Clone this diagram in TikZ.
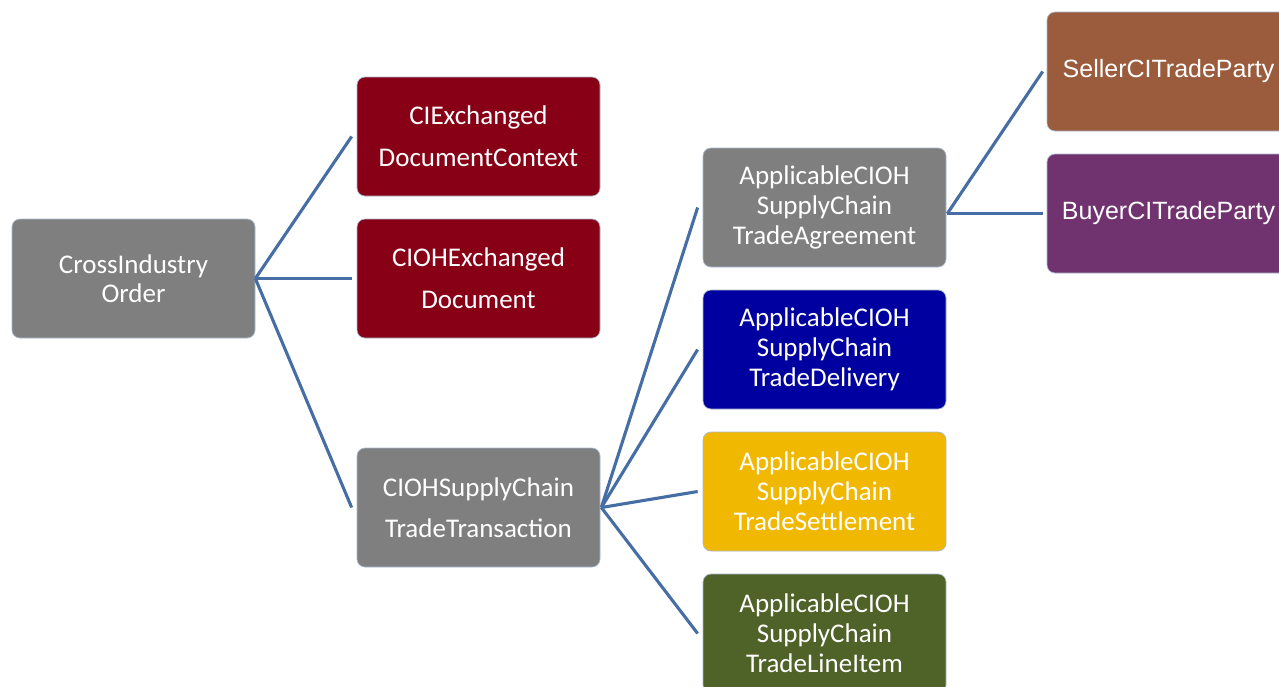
\documentclass[tikz,border=0pt]{standalone}
\usepackage{fontspec}
\setmainfont{Carlito}
\newfontfamily\arialfont{Liberation Sans}
\definecolor{cgray}{RGB}{127,127,127}
\definecolor{cred}{RGB}{135,0,22}
\definecolor{cblue}{RGB}{0,0,160}
\definecolor{cyellow}{RGB}{240,184,0}
\definecolor{colive}{RGB}{79,98,40}
\definecolor{cbrown}{RGB}{154,92,60}
\definecolor{cpurple}{RGB}{113,51,111}
\definecolor{cline}{RGB}{70,110,165}
\definecolor{cborder}{RGB}{170,185,205}
\begin{document}
\begin{tikzpicture}[x=1pt,y=-1pt,
  box/.style={rectangle, rounded corners=8pt, draw=cborder, line width=0.7pt,
    minimum width=243pt, minimum height=119pt, inner sep=0pt, align=center,
    text=white},
  twoline/.style={font=\fontsize{27}{42}\selectfont},
  threeline/.style={font=\fontsize{27}{30}\selectfont},
  arialbox/.style={font=\arialfont\fontsize{25}{30}\selectfont},
  conn/.style={draw=cline, line width=3.1pt}
]
\useasboundingbox (0,0) rectangle (1279,686);
\clip (0,0) rectangle (1279,686);

\node[box, fill=cgray, font=\fontsize{27}{29}\selectfont] (root) at (133.5,278.5) {CrossIndustry\\Order};
\node[box, fill=cred, twoline] (ctx) at (478.5,136.5) {CIExchanged\\DocumentContext};
\node[box, fill=cred, twoline] (doc) at (478.5,278.5) {CIOHExchanged\\Document};
\node[box, fill=cgray, font=\fontsize{27}{41}\selectfont] (trans) at (478.5,507.5) {CIOHSupplyChain\\TradeTransaction};

\node[box, fill=cgray, threeline] (agr) at (824.5,207.5) {ApplicableCIOH\\SupplyChain\\TradeAgreement};
\node[box, fill=cblue, threeline] (del) at (824.5,349.5) {ApplicableCIOH\\SupplyChain\\TradeDelivery};
\node[box, fill=cyellow, threeline] (set) at (824.5,491.5) {ApplicableCIOH\\SupplyChain\\TradeSettlement};
\node[box, fill=colive, threeline] (li) at (824.5,633.5) {ApplicableCIOH\\SupplyChain\\TradeLineItem};

\node[box, fill=cbrown, arialbox] (seller) at (1168.5,71.5) {SellerCITradeParty};
\node[box, fill=cpurple, arialbox] (buyer) at (1168.5,213.5) {BuyerCITradeParty};

\draw[conn] (root.east) -- ([xshift=-5pt]ctx.west);
\draw[conn] (root.east) -- ([xshift=-5pt]doc.west);
\draw[conn] (root.east) -- ([xshift=-5pt]trans.west);

\draw[conn] ([xshift=1pt]trans.east) -- ([xshift=-5pt]agr.west);
\draw[conn] ([xshift=1pt]trans.east) -- ([xshift=-5pt]del.west);
\draw[conn] ([xshift=1pt]trans.east) -- ([xshift=-5pt]set.west);
\draw[conn] ([xshift=1pt]trans.east) -- ([xshift=-5pt]li.west);

\coordinate (agrout) at ([xshift=1pt,yshift=-6pt]agr.east);
\draw[conn] (agrout) -- ([xshift=-4pt]seller.west);
\draw[conn] (agrout) -- ([xshift=-4pt]buyer.west);
\end{tikzpicture}
\end{document}
